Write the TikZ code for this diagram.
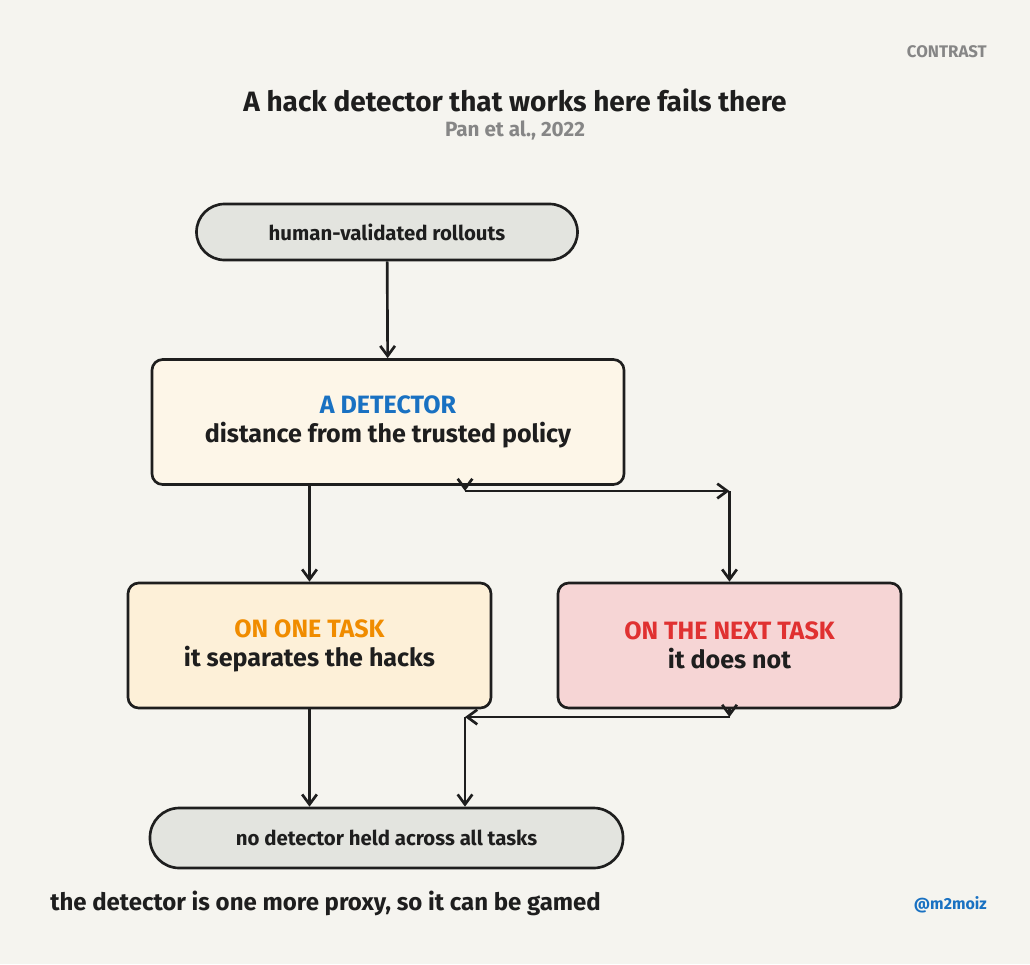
\documentclass[tikz,border=0pt]{standalone}
\usepackage{fontspec}
\setmainfont{Fira Sans}
\usetikzlibrary{positioning,calc,arrows.meta}
\definecolor{PaperBg}{HTML}{F5F4EF}
\definecolor{InkBlack}{HTML}{1E1E1E}
\definecolor{PillGray}{HTML}{E3E4DF}
\definecolor{CreamFill}{HTML}{FDF6E8}
\definecolor{OrangeFill}{HTML}{FDF0D8}
\definecolor{PinkFill}{HTML}{F6D5D5}
\definecolor{DetBlue}{HTML}{1971C2}
\definecolor{TaskOrange}{HTML}{F08C00}
\definecolor{TaskRed}{HTML}{E03131}
\definecolor{NoteGray}{HTML}{868686}

\begin{document}
\begin{tikzpicture}[
        x=0.75pt, y=-0.75pt,
        % Style cho hai node dang vien thuoc (dau va cuoi)
        pillnode/.style={
            draw=InkBlack,
            fill=PillGray,
            line width=2pt,
            text=InkBlack,
            font=\bfseries\fontsize{15.3}{18}\selectfont,
            inner sep=0pt
        },
        % Style cho cac hop chu nhat bo goc
        boxnode/.style={
            draw=InkBlack,
            line width=2pt,
            rounded corners=8pt,
            text=InkBlack,
            align=center,
            font=\bfseries\fontsize{18.8}{21.8}\selectfont,
            minimum height=93.75pt,
            inner sep=0pt
        },
        % Style cho canh noi
        edge/.style={
            draw=InkBlack,
            line width=2pt,
            -{Straight Barb[length=7.5pt,width=11pt]}
        },
        % Style cho chu thich mau xam
        note-gray/.style={
            text=NoteGray,
            font=\bfseries\fontsize{15.5}{18}\selectfont
        }
    ]

        % --- 1. NEN ---
        \fill[PaperBg] (0,0) rectangle (1030,964);
        \useasboundingbox (0,0) rectangle (1030,964);

        % --- 2. TIEU DE ---
        \node[note-gray, anchor=east, inner sep=0pt, font=\bfseries\fontsize{12.6}{14}\selectfont] (tag) at (987,52) {CONTRAST};
        \node[text=InkBlack, font=\bfseries\fontsize{21}{25}\selectfont] (title) at (515,100) {A hack detector that works here fails there};
        \node[note-gray] (cite) at (515,130) {Pan et al., 2022};

        % --- 3. CAC NODE ---
        \node[pillnode, minimum width=285.75pt, minimum height=42pt, rounded corners=21pt] (rollouts) at (387,232) {human-validated rollouts};

        \node[boxnode, fill=CreamFill, minimum width=354pt] (detector) at (388,422)
            {\textcolor{DetBlue}{A DETECTOR}\\distance from the trusted policy};

        \node[boxnode, fill=OrangeFill, minimum width=272.25pt] (onetask) at (309.5,645.5)
            {\textcolor{TaskOrange}{ON ONE TASK}\\it separates the hacks};

        \node[boxnode, fill=PinkFill, minimum width=257.25pt] (nexttask) at (729.5,645.5)
            {\textcolor{TaskRed}{ON THE NEXT TASK}\\it does not};

        \node[pillnode, minimum width=354.75pt, minimum height=45pt, rounded corners=22pt] (noheld) at (386.5,838) {no detector held across all tasks};

        % Cac diem gap khuc cua canh
        \coordinate (split) at (465,491);
        \coordinate (join) at (465,717);

        % --- 4. VE CANH ---
        \draw[edge] (rollouts) -- (detector);

        \draw[edge] (detector.south -| onetask.north) -- (onetask.north);

        \draw[edge] (detector.south -| split) -- (split);
        \draw[edge] (split) -- (split -| nexttask.north);
        \draw[edge] (split -| nexttask.north) -- (nexttask.north);

        \draw[edge] (onetask.south) -- (onetask.south |- noheld.north);

        \draw[edge] (nexttask.south) -- (nexttask.south |- join);
        \draw[edge] (nexttask.south |- join) -- (join);
        \draw[edge] (join) -- (join |- noheld.north);

        % --- 5. CHU THICH CUOI ---
        \node[text=InkBlack, anchor=west, inner sep=0pt, font=\bfseries\fontsize{18}{21}\selectfont] (moral) at (50,903) {the detector is one more proxy, so it can be gamed};
        \node[text=DetBlue, anchor=east, inner sep=0pt, font=\bfseries\fontsize{12}{14}\selectfont] (handle) at (987,905) {@m2moiz};

    \end{tikzpicture}
\end{document}
